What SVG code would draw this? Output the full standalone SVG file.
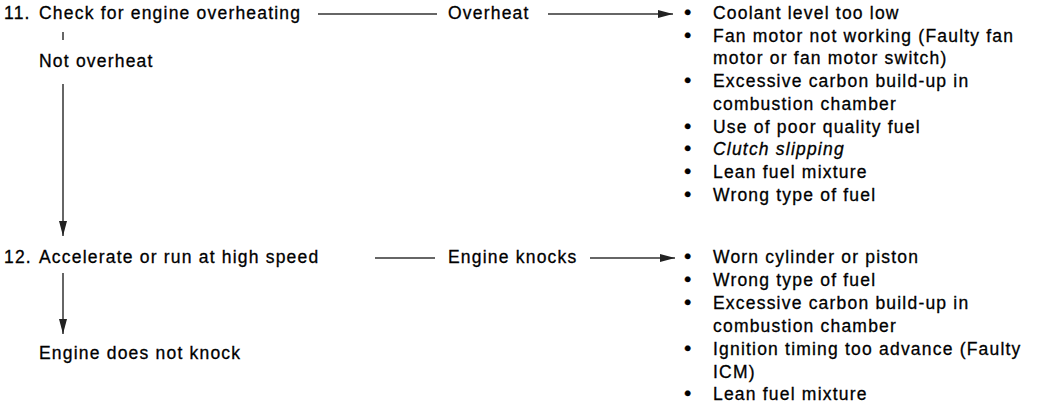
<svg xmlns="http://www.w3.org/2000/svg" width="1038" height="410" viewBox="0 0 1038 410">
<style>
text{font-family:"Liberation Sans",Arial,sans-serif;font-size:17.5px;letter-spacing:1.2px;fill:#000;stroke:#000;stroke-width:0.3}
.b{font-size:21px}
.it{font-style:italic}
.ln{stroke:#333;stroke-width:1.5;fill:none}
</style>
<defs>
<marker id="ah" markerWidth="16" markerHeight="9" refX="15" refY="4.5" orient="auto" markerUnits="userSpaceOnUse">
<path d="M0,0.5 L15,4.5 L0,8.5 Z" fill="#222"/>
</marker>
</defs>
<rect width="1038" height="410" fill="#fff"/>
<g id="connectors">
<line class="ln" x1="318" y1="14" x2="437" y2="14"/>
<line class="ln" x1="548" y1="14" x2="673" y2="14" marker-end="url(#ah)"/>
<line class="ln" x1="63" y1="32" x2="63" y2="40"/>
<line class="ln" x1="63" y1="84" x2="63" y2="236" marker-end="url(#ah)"/>
<line class="ln" x1="375" y1="258" x2="435" y2="258"/>
<line class="ln" x1="590" y1="258" x2="675" y2="258" marker-end="url(#ah)"/>
<line class="ln" x1="63" y1="273" x2="63" y2="334" marker-end="url(#ah)"/>
</g>
<g id="step11"><text x="4" y="19">11.<tspan x="39">Check for engine overheating</tspan></text></g>
<g id="overheat"><text x="448" y="19">Overheat</text></g>
<g id="not-overheat"><text x="39" y="67">Not overheat</text></g>
<g id="causes-overheat">
<text x="684" y="19"><tspan class="b">•</tspan><tspan x="713">Coolant level too low</tspan></text>
<text x="684" y="41.7"><tspan class="b">•</tspan><tspan x="713">Fan motor not working (Faulty fan</tspan></text>
<text x="713" y="64.4">motor or fan motor switch)</text>
<text x="684" y="87.1"><tspan class="b">•</tspan><tspan x="713">Excessive carbon build-up in</tspan></text>
<text x="713" y="109.8">combustion chamber</text>
<text x="684" y="132.5"><tspan class="b">•</tspan><tspan x="713">Use of poor quality fuel</tspan></text>
<text x="684" y="155.2"><tspan class="b">•</tspan><tspan x="713" class="it">Clutch slipping</tspan></text>
<text x="684" y="177.9"><tspan class="b">•</tspan><tspan x="713">Lean fuel mixture</tspan></text>
<text x="684" y="200.6"><tspan class="b">•</tspan><tspan x="713">Wrong type of fuel</tspan></text>
</g>
<g id="step12"><text x="4" y="263">12.<tspan x="39">Accelerate or run at high speed</tspan></text></g>
<g id="knocks"><text x="448" y="263">Engine knocks</text></g>
<g id="no-knock"><text x="39" y="359">Engine does not knock</text></g>
<g id="causes-knock">
<text x="684" y="263"><tspan class="b">•</tspan><tspan x="713">Worn cylinder or piston</tspan></text>
<text x="684" y="285.9"><tspan class="b">•</tspan><tspan x="713">Wrong type of fuel</tspan></text>
<text x="684" y="308.8"><tspan class="b">•</tspan><tspan x="713">Excessive carbon build-up in</tspan></text>
<text x="713" y="331.7">combustion chamber</text>
<text x="684" y="354.6"><tspan class="b">•</tspan><tspan x="713">Ignition timing too advance (Faulty</tspan></text>
<text x="713" y="377.5">ICM)</text>
<text x="684" y="400.4"><tspan class="b">•</tspan><tspan x="713">Lean fuel mixture</tspan></text>
</g>
</svg>
